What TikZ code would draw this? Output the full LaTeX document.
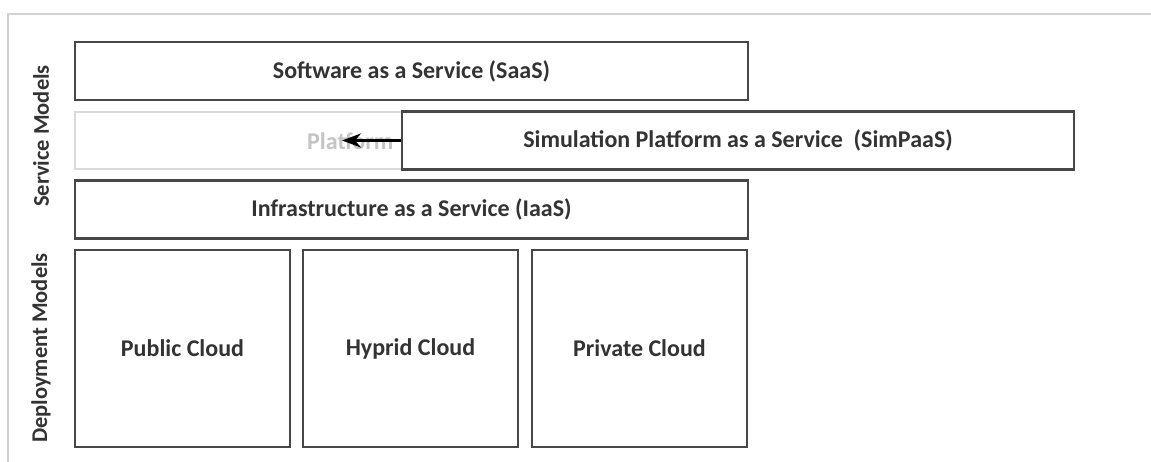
\documentclass[tikz,border=0pt]{standalone}
\usepackage{fontspec}
\setmainfont{Carlito}
\usetikzlibrary{arrows.meta}
\definecolor{boxline}{HTML}{474747}
\definecolor{txt}{HTML}{333333}
\definecolor{faint}{HTML}{DADADA}
\definecolor{fainttxt}{HTML}{C4C4C4}
\definecolor{framecol}{HTML}{D2D2D2}
\tikzset{
  box/.style={draw=boxline, line width=2.2pt, fill=white, inner sep=0pt, text=txt,
    font=\fontsize{24}{27}\selectfont\bfseries},
  sidelabel/.style={rotate=90, text=txt, font=\fontsize{22.5}{25}\selectfont\bfseries, inner sep=0pt},
  framerule/.style={draw=framecol, line width=1.5pt},
  conn/.style={draw=black, line width=2.8pt, -{Stealth[length=19pt,width=14pt]}}
}
\begin{document}
\begin{tikzpicture}[x=1pt,y=-1pt]
\useasboundingbox[fill=white] (0,0) rectangle (1151,462);
\coordinate (ftl) at (8,14);
\coordinate (ftr) at (1151,14);
\coordinate (fbl) at (8,462);
\draw[framerule] (ftr) -- (ftl) -- (fbl);
% side labels
\node[sidelabel] (svc) at (41,136) {Service Models};
\node[sidelabel] (dep) at (41,348) {Deployment Models};
% service models
\node[box, minimum width=673pt, minimum height=58pt] (saas) at (411.5,71) {Software as a Service (SaaS)};
\node[box, draw=faint, line width=1.5pt, minimum width=673pt, minimum height=57pt] (paas) at (411.5,140.5) {};
\node[anchor=west, inner sep=0pt, text=fainttxt, font=\fontsize{24}{27}\selectfont\bfseries] (paastxt) at (307,141) {Platform};
\node[box, minimum width=672pt, minimum height=58pt] (simpaas) at (738,140.5) {Simulation Platform as a Service\ \ (SimPaaS)};
\node[box, minimum width=673pt, minimum height=58pt] (iaas) at (411.5,209.5) {Infrastructure as a Service (IaaS)};
% deployment models
\node[box, minimum width=215pt, minimum height=197pt] (pub) at (182.5,348.5) {Public Cloud};
\node[box, minimum width=215pt, minimum height=197pt] (hyb) at (410.5,348.5) {Hyprid Cloud};
\node[box, minimum width=215pt, minimum height=197pt] (priv) at (639.5,348.5) {Private Cloud};
% arrow
\coordinate (arrowend) at (342,140.5);
\draw[conn] (simpaas.west) -- (arrowend);
\end{tikzpicture}
\end{document}
